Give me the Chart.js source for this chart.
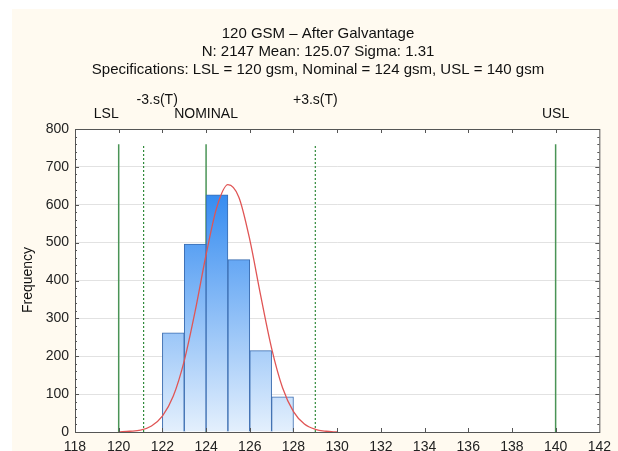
<!DOCTYPE html>
<html>
<head>
<meta charset="utf-8">
<script src="https://cdn.jsdelivr.net/npm/chart.js@4"></script>
<style>
  html, body { margin: 0; padding: 0; background: #fff; }
  #wrap { width: 618px; height: 451px; }
</style>
</head>
<body>
<div id="wrap"><canvas id="hist" width="618" height="451"></canvas></div>
<script>
// ---- data ----
const titleLines = [
    "120 GSM \u2013 After Galvantage",
    "N: 2147 Mean: 125.07 Sigma: 1.31",
    "Specifications: LSL = 120 gsm, Nominal = 124 gsm, USL = 140 gsm"
];

// histogram bins (centre of each 1 gsm bin) and counts
const binCentres = [122.5, 123.5, 124.5, 125.5, 126.5, 127.5];
const binCounts  = [262, 496, 626, 455, 215, 93];

// fitted normal curve, read at 0.5 gsm steps
const curveX = [120, 120.5, 121, 121.5, 122, 122.5, 123, 123.5, 124, 124.5, 125,
                125.5, 126, 126.5, 127, 127.5, 128, 128.5, 129, 129.5, 130];
const curveY = [0, 2, 5, 16, 42, 95, 188, 319, 468, 595, 653,
                620, 508, 360, 221, 117, 54, 21, 7, 2, 0];

// specification / sigma lines
const specNames  = ["LSL", "-3.s(T)", "NOMINAL", "+3.s(T)", "USL"];
const specValues = [120, 121.14, 124, 129.0, 140];
const specDotted = [false, true, false, true, false];
const specTop = 760;

const xMin = 118, xMax = 142, xStep = 2;
const yMin = 0, yMax = 800, yStep = 100;

// ---- chart ----
const FONT = "'Liberation Sans', Arial, sans-serif";
const ctx = document.getElementById("hist").getContext("2d");

const datasets = [];

// spec lines first so they sit behind the bars
specValues.forEach((v, i) => {
    datasets.push({
        type: "line",
        data: [{ x: v, y: 0 }, { x: v, y: specTop }],
        borderColor: specDotted[i] ? "#2f8a3a" : "#4a9456",
        borderWidth: specDotted[i] ? 1.2 : 1.5,
        borderDash: specDotted[i] ? [2, 2] : [],
        pointRadius: 0,
        order: 3
    });
});

datasets.push({
    type: "bar",
    data: binCentres.map((c, i) => ({ x: c, y: binCounts[i] })),
    backgroundColor: (c) => {
        const area = c.chart.chartArea;
        if (!area) return "#7fb4f2";
        const g = c.chart.ctx.createLinearGradient(0, c.chart.scales.y.getPixelForValue(650), 0, area.bottom);
        g.addColorStop(0, "#2f88f0");
        g.addColorStop(1, "#e4f0fd");
        return g;
    },
    borderColor: "#3a6cb0",
    borderWidth: 1,
    barPercentage: 1,
    categoryPercentage: 1,
    grouped: false,
    order: 2
});

datasets.push({
    type: "line",
    data: curveX.map((x, i) => ({ x: x, y: curveY[i] })),
    borderColor: "#e05555",
    borderWidth: 1.3,
    pointRadius: 0,
    cubicInterpolationMode: "monotone",
    order: 1
});

const decor = {
    id: "decor",
    beforeDraw(chart) {
        const c = chart.ctx, a = chart.chartArea;
        c.save();
        c.fillStyle = "#ffffff";
        c.fillRect(0, 0, chart.width, chart.height);
        c.fillStyle = "#fffaf0";
        c.fillRect(12, 9, chart.width - 12, chart.height - 9);
        c.fillStyle = "#ffffff";
        c.fillRect(a.left, a.top, a.right - a.left, a.bottom - a.top);
        c.restore();
    },
    afterDraw(chart) {
        const c = chart.ctx, a = chart.chartArea;
        const xs = chart.scales.x, ys = chart.scales.y;
        c.save();
        // titles
        c.fillStyle = "#111";
        c.font = "15px " + FONT;
        c.textAlign = "center";
        c.textBaseline = "middle";
        titleLines.forEach((t, i) => c.fillText(t, 318, 34 + i * 18));

        // spec labels above the plot
        c.font = "14px " + FONT;
        specNames.forEach((n, i) => {
            const px = xs.getPixelForValue(specValues[i]);
            const y = specDotted[i] ? 100 : 114;
            if (i === 0) { c.textAlign = "right"; c.fillText(n, px, y); }
            else if (i === 1) { c.textAlign = "left"; c.fillText(n, px - 7, y); }
            else { c.textAlign = "center"; c.fillText(n, px, y); }
        });

        // y axis title
        c.translate(28, 280);
        c.rotate(-Math.PI / 2);
        c.textAlign = "center";
        c.fillText("Frequency", 0, 0);
        c.setTransform(1, 0, 0, 1, 0, 0);

        // frame and ticks
        c.strokeStyle = "#555";
        c.lineWidth = 1;
        c.strokeRect(a.left + 0.5, a.top + 0.5, a.right - a.left, a.bottom - a.top);
        c.beginPath();
        for (let v = xMin + xStep; v < xMax; v += xStep) {
            const px = Math.round(xs.getPixelForValue(v)) + 0.5;
            c.moveTo(px, a.top); c.lineTo(px, a.top + 4);
            c.moveTo(px, a.bottom); c.lineTo(px, a.bottom - 4);
        }
        for (let v = yMin + 20; v < yMax; v += 20) {
            const py = Math.round(ys.getPixelForValue(v)) + 0.5;
            const len = v % 100 === 0 ? 4 : 2;
            c.moveTo(a.left, py); c.lineTo(a.left + len, py);
            c.moveTo(a.right, py); c.lineTo(a.right - len, py);
        }
        c.stroke();
        c.restore();
    }
};

new Chart(ctx, {
    data: { datasets: datasets },
    options: {
        responsive: false,
        animation: false,
        layout: { padding: { left: 12, right: 17, top: 129, bottom: 0 } },
        plugins: {
            legend: { display: false },
            tooltip: { enabled: false }
        },
        scales: {
            x: {
                type: "linear",
                min: xMin,
                max: xMax,
                offset: false,
                grid: { display: false, drawTicks: false },
                border: { display: false },
                ticks: {
                    stepSize: xStep,
                    padding: 7,
                    color: "#222",
                    font: { family: FONT, size: 14 }
                },
                afterFit: (s) => { s.height = 19; }
            },
            y: {
                min: yMin,
                max: yMax,
                grid: { color: "#e2e2e2", drawTicks: false },
                border: { display: false },
                ticks: {
                    stepSize: yStep,
                    padding: 6,
                    color: "#222",
                    font: { family: FONT, size: 14 }
                },
                afterFit: (s) => { s.width = 63; }
            }
        }
    },
    plugins: [decor]
});
</script>
</body>
</html>
